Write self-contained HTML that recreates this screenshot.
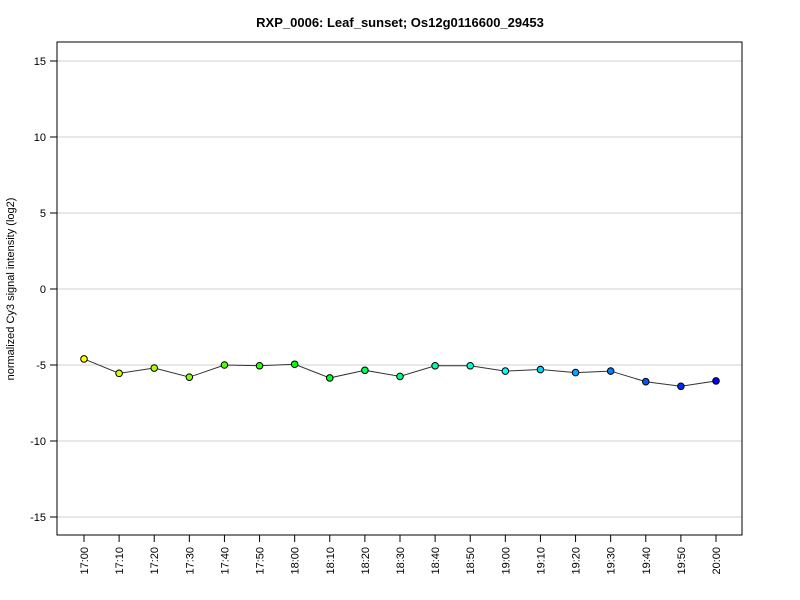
<!DOCTYPE html>
<html><head><meta charset="utf-8"><style>
body{margin:0;background:#fff;}
svg{display:block;font-family:"Liberation Sans",Arial,sans-serif;}
</style></head><body>
<svg id="chart" width="800" height="600">
<text x="400" y="27" text-anchor="middle" font-size="13" font-weight="bold">RXP_0006: Leaf_sunset; Os12g0116600_29453</text>
<text transform="translate(14,289) rotate(-90)" text-anchor="middle" font-size="11">normalized Cy3 signal intensity (log2)</text>
<g id="grid"></g><g id="axes"></g><g id="series"></g>
<rect x="57" y="42" width="685" height="493" fill="none" stroke="#000" stroke-width="1"/>
</svg>
<script>
const categories=["17:00","17:10","17:20","17:30","17:40","17:50","18:00","18:10","18:20","18:30","18:40","18:50","19:00","19:10","19:20","19:30","19:40","19:50","20:00"];
const values=[-4.6,-5.55,-5.2,-5.8,-5.0,-5.05,-4.95,-5.85,-5.35,-5.75,-5.05,-5.05,-5.4,-5.3,-5.5,-5.4,-6.1,-6.4,-6.05];
const yTicks=[-15,-10,-5,0,5,10,15];
const NS="http://www.w3.org/2000/svg";
function y(v){return 289-v*15.2;}
function x(i){return 84+i*(716-84)/(categories.length-1);}
const grid=document.getElementById('grid'),axes=document.getElementById('axes'),series=document.getElementById('series');
function mk(t,a,p){const e=document.createElementNS(NS,t);for(const k in a)e.setAttribute(k,a[k]);p.appendChild(e);return e;}
yTicks.forEach(v=>{
 const g=mk('line',{x1:57,x2:742,y1:y(v),y2:y(v),stroke:'#d0d0d0','stroke-width':1},grid);
 
 
 const t=mk('line',{x1:50,x2:57,y1:y(v),y2:y(v),stroke:'#000'},axes);
 
 
 const l=mk('text',{x:46,y:y(v)+4,'text-anchor':'end','font-size':11},axes);
 l.textContent=v;
 
 
});
categories.forEach((c,i)=>{
 const t=mk('line',{x1:x(i),x2:x(i),y1:535,y2:542,stroke:'#000'},axes);
 
 
 const l=mk('text',{x:0,y:0,'text-anchor':'end','font-size':11,transform:`translate(${x(i)+4},547) rotate(-90)`},axes);
 l.textContent=c;
 
 
});
const pl=mk('polyline',{points:values.map((v,i)=>x(i)+','+y(v)).join(' '),fill:'none',stroke:'#333','stroke-width':1},series);


values.forEach((v,i)=>{
 const h=60+180*i/(values.length-1);
 const c=mk('circle',{cx:x(i),cy:y(v),r:3.3,fill:`hsl(${h},100%,50%)`,stroke:'#000','stroke-width':1},series);
 
 
});
</script>
</body></html>
